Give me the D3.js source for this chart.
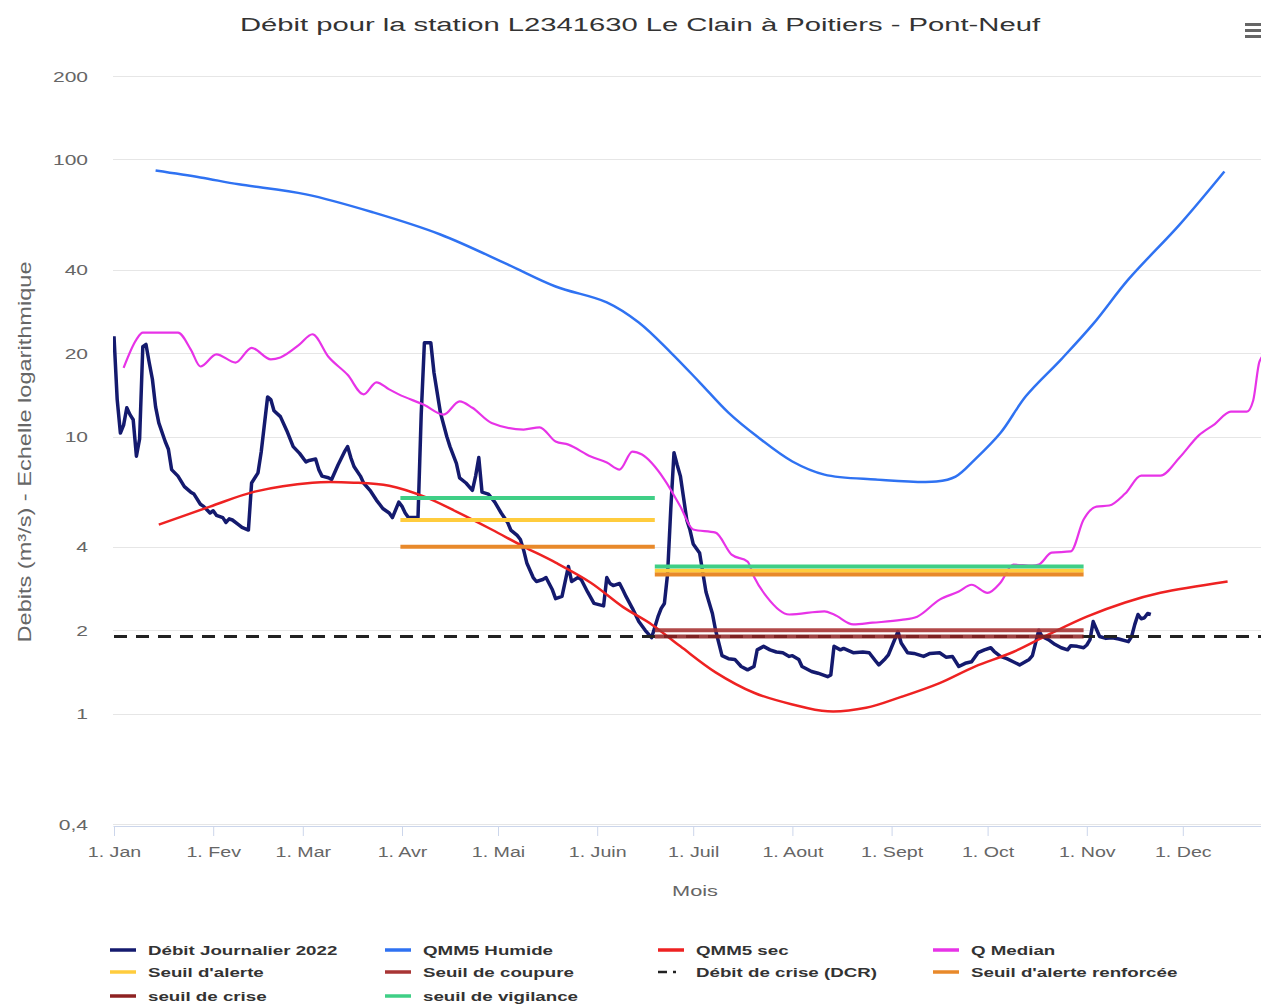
<!DOCTYPE html>
<html><head><meta charset="utf-8">
<script src="https://cdn.jsdelivr.net/npm/d3@7"></script>
<style>
body{margin:0;background:#fff;}
svg{display:block;font-family:"Liberation Sans",Arial,sans-serif;}
</style>
</head><body>
<svg id="chart" width="1261" height="1005"></svg>
<script>
// ---------- data ----------
const titleText = "Débit pour la station L2341630 Le Clain à Poitiers - Pont-Neuf";
const yAxisTitle = "Debits (m³/s) - Echelle logarithmique";
const xAxisTitle = "Mois";
const monthLabels = ["Jan","Fev","Mar","Avr","Mai","Juin","Juil","Aout","Sept","Oct","Nov","Dec"];
const yTickValues = [0.4, 1, 2, 4, 10, 20, 40, 100, 200];

// [day of year 2022, m3/s]
const debitJournalier = [[0,23.0],[1,13.6],[2,10.3],[3,11.0],[4,12.7],[5,12.0],[6,11.5],[7,8.5],[8,9.8],[9,21.1],[10,21.5],[11,18.5],[12,16.1],[13,12.8],[14,11.2],[16,9.6],[17,9.0],[18,7.6],[20,7.2],[22,6.6],[24,6.3],[25,6.2],[27,5.7],[28,5.6],[30,5.3],[31,5.4],[32,5.2],[34,5.1],[35,4.9],[36,5.05],[37,5.0],[39,4.8],[40,4.7],[42,4.6],[43,6.8],[45,7.4],[46,8.8],[48,13.9],[49,13.6],[50,12.4],[52,11.8],[54,10.5],[56,9.2],[58,8.7],[60,8.1],[61,8.2],[63,8.3],[64,7.6],[65,7.2],[67,7.1],[68,7.0],[70,7.9],[72,8.8],[73,9.2],[74,8.4],[75,7.8],[77,7.2],[78,6.8],[80,6.4],[82,5.9],[83,5.7],[84,5.5],[86,5.3],[87,5.1],[89,5.8],[90,5.6],[91,5.3],[92,5.1],[95,5.1],[96,12.0],[97,21.8],[99,21.8],[100,17.0],[102,12.2],[104,10.0],[105,9.2],[107,8.0],[108,7.1],[110,6.8],[112,6.4],[113,7.2],[114,8.4],[115,6.3],[117,6.2],[119,5.8],[121,5.3],[123,4.9],[124,4.6],[126,4.4],[127,4.25],[128,3.9],[129,3.5],[131,3.1],[132,3.0],[134,3.05],[135,3.1],[137,2.8],[138,2.6],[140,2.65],[142,3.4],[143,3.0],[145,3.1],[146,3.05],[148,2.75],[150,2.5],[153,2.45],[154,3.1],[155,2.95],[156,2.9],[158,2.95],[159,2.8],[160,2.65],[162,2.4],[164,2.15],[166,2.0],[168,1.88],[170,2.24],[171,2.4],[172,2.5],[173,3.2],[174,5.5],[175,8.75],[176,7.9],[177,7.2],[178,6.0],[179,5.0],[180,4.6],[181,4.1],[183,3.8],[185,2.75],[187,2.3],[188,2.0],[190,1.62],[192,1.58],[194,1.57],[196,1.48],[198,1.44],[200,1.48],[201,1.7],[203,1.75],[205,1.7],[207,1.67],[209,1.66],[211,1.61],[212,1.62],[214,1.57],[215,1.48],[218,1.42],[220,1.40],[223,1.36],[224,1.38],[225,1.75],[227,1.70],[228,1.72],[231,1.66],[234,1.67],[236,1.66],[238,1.55],[239,1.5],[241,1.58],[242,1.63],[245,1.98],[246,1.8],[248,1.66],[250,1.65],[253,1.61],[255,1.65],[258,1.66],[260,1.6],[262,1.61],[264,1.48],[266,1.52],[268,1.54],[270,1.66],[272,1.7],[274,1.73],[275,1.68],[277,1.61],[279,1.58],[281,1.54],[283,1.5],[286,1.57],[287,1.62],[289,2.0],[290,1.9],[292,1.85],[294,1.78],[296,1.73],[298,1.7],[299,1.76],[301,1.75],[303,1.73],[304,1.77],[305,1.85],[306,2.15],[308,1.9],[310,1.87],[312,1.88],[314,1.86],[317,1.82],[318,1.9],[319,2.1],[320,2.28],[321,2.2],[322,2.22],[323,2.3],[324,2.28]];

const qmm5Humide = [[13,91.2],[27,86.1],[39,81.3],[60,74.8],[81,64.4],[102,53.6],[123,41.8],[138,34.8],[154,30.5],[164,25.8],[174,20.1],[183,15.7],[192,12.2],[201,10.0],[212,8.13],[222,7.29],[238,7.0],[257,6.88],[263,7.17],[269,8.26],[277,10.3],[285,14.0],[296,19.0],[306,25.5],[317,36.9],[333,58.2],[347,90.5]];

const qmm5Sec = [[14,4.81],[30,5.59],[44,6.33],[62,6.82],[75,6.82],[86,6.65],[97,6.07],[107,5.36],[118,4.62],[128,4.01],[138,3.51],[149,2.97],[159,2.43],[168,2.10],[177,1.75],[188,1.41],[200,1.19],[212,1.08],[223,1.02],[235,1.05],[246,1.15],[258,1.29],[269,1.48],[281,1.67],[292,1.93],[304,2.24],[316,2.52],[327,2.73],[348,3.0]];

const qMedian = [[3,17.7],[7,22.4],[9,23.7],[20,23.7],[24,20.6],[27,17.9],[32,19.8],[38,18.5],[43,20.9],[49,19.0],[52,19.3],[58,21.5],[62,23.4],[67,19.4],[73,16.7],[78,14.2],[82,15.7],[86,14.8],[89,14.2],[97,13.0],[103,12.0],[108,13.4],[112,12.7],[118,11.2],[128,10.6],[133,10.8],[138,9.6],[142,9.35],[149,8.47],[154,8.06],[158,7.6],[162,8.83],[165,8.61],[172,7.0],[177,5.59],[181,4.62],[188,4.5],[193,3.75],[198,3.54],[200,3.12],[204,2.64],[211,2.28],[222,2.34],[225,2.28],[231,2.10],[237,2.13],[246,2.18],[251,2.24],[258,2.58],[264,2.76],[268,2.92],[273,2.73],[277,2.97],[281,3.45],[287,3.42],[289,3.45],[293,3.81],[299,3.85],[303,5.02],[307,5.59],[311,5.64],[316,6.23],[321,7.23],[327,7.23],[333,8.4],[339,10.1],[344,11.1],[349,12.3],[354,12.3],[356,13.5],[358,18.7],[362,21.0]];

// threshold periods (day of year)
const periodStart = [89.5, 169];
const periodEnd = [169, 303];
const seuilAlerte = [5.0, 3.28];
const seuilCoupure = [null, 2.0];
const seuilAlerteRenforcee = [4.0, 3.18];
const seuilCrise = [null, 1.9];
const seuilVigilance = [6.0, 3.4];
const debitCrise = 1.9;

const legendNames = ["Débit Journalier 2022","QMM5 Humide","QMM5 sec","Q Median","Seuil d'alerte","Seuil de coupure","Débit de crise (DCR)","Seuil d'alerte renforcée","seuil de crise","seuil de vigilance"];
const seriesColors = ["#141a6e","#2f72f2","#ee2222","#e733e7","#ffcc3d","#a83535","#222222","#e8892a","#8e2222","#3fcf86"];

// ---------- chart ----------
const svg = d3.select("#chart");
const W = 1261;
const t0 = Date.UTC(2022,0,1);
const dayToDate = d => new Date(t0 + d*864e5);
const x = d3.scaleUtc().domain([new Date(t0), new Date(Date.UTC(2023,0,1))]).range([114, 1282]);
const y = d3.scaleLog().domain([0.4, 200]).range([824, 76]);

function stretch(sel, k){
  sel.each(function(){
    const w = this.getComputedTextLength();
    this.setAttribute("textLength", w*k);
    this.setAttribute("lengthAdjust","spacingAndGlyphs");
  });
}

svg.append("defs").append("clipPath").attr("id","plot")
  .append("rect").attr("x",113).attr("y",40).attr("width",W-113).attr("height",790);

// gridlines
svg.append("g").selectAll("line").data(yTickValues).join("line")
  .attr("x1",113).attr("x2",W).attr("y1",d=>Math.round(y(d))+0.5).attr("y2",d=>Math.round(y(d))+0.5)
  .attr("stroke","#e6e6e6").attr("stroke-width",1);

// y axis labels
const yAxis = d3.axisLeft(y).tickValues(yTickValues).tickSize(0).tickPadding(0)
  .tickFormat(d => String(d).replace(".", ","));
const gy = svg.append("g").attr("transform","translate(88,0)").call(yAxis);
gy.select(".domain").remove();
gy.selectAll("text").attr("font-size",15).attr("fill","#666").attr("font-family","Liberation Sans, Arial, sans-serif")
  .attr("dy","0.34em");
stretch(gy.selectAll("text"), 1.4);

// x axis
const monthTicks = d3.range(12).map(m => new Date(Date.UTC(2022,m,1)));
const xAxis = d3.axisBottom(x).tickValues(monthTicks).tickSize(10).tickPadding(11)
  .tickFormat(d => "1. " + monthLabels[d.getUTCMonth()]);
const gx = svg.append("g").attr("transform","translate(0,826)").call(xAxis);
gx.select(".domain").attr("stroke","#ccd6eb").attr("d","M113.5,0.5H"+W);
gx.selectAll(".tick line").attr("stroke","#ccd6eb");
gx.selectAll("text").attr("font-size",14).attr("fill","#666").attr("font-family","Liberation Sans, Arial, sans-serif");
stretch(gx.selectAll("text"), 1.4);

// axis titles
const xt = svg.append("text").attr("x",695).attr("y",896).attr("text-anchor","middle")
  .attr("font-size",15).attr("fill","#666").text(xAxisTitle);
stretch(xt, 1.45);
svg.append("text").attr("transform","translate(31,452) scale(1.35,1) rotate(-90)")
  .attr("text-anchor","middle").attr("font-size",14).attr("fill","#666")
  .attr("textLength",381).attr("lengthAdjust","spacingAndGlyphs").text(yAxisTitle);

// title
svg.append("text").attr("x",640).attr("y",31).attr("text-anchor","middle")
  .attr("font-size",18).attr("fill","#333")
  .attr("textLength",800).attr("lengthAdjust","spacingAndGlyphs").text(titleText);

// menu icon
svg.append("g").selectAll("rect").data([0,1,2]).join("rect")
  .attr("x",1245).attr("y",i=>23+i*6).attr("width",20).attr("height",3).attr("fill","#666");

// series
const plot = svg.append("g").attr("clip-path","url(#plot)");
const line = d3.line().x(d => x(dayToDate(d[0]))).y(d => y(d[1]));
const smooth = d3.line().curve(d3.curveCatmullRom.alpha(0.5)).x(d => x(dayToDate(d[0]))).y(d => y(d[1]));
const medianLine = d3.line().curve(d3.curveMonotoneX).x(d => x(dayToDate(d[0]))).y(d => y(d[1]));

function hseg(values, color, width, opacity){
  values.forEach((v,i) => {
    if (v == null) return;
    plot.append("path").attr("fill","none").attr("stroke",color).attr("stroke-width",width)
      .attr("stroke-opacity",opacity||1)
      .attr("d", line([[periodStart[i], v],[periodEnd[i], v]]));
  });
}

plot.append("path").datum(debitJournalier).attr("fill","none").attr("stroke",seriesColors[0])
  .attr("stroke-width",3.5).attr("stroke-linejoin","round").attr("d",line);
plot.append("path").datum(qmm5Humide).attr("fill","none").attr("stroke",seriesColors[1])
  .attr("stroke-width",2.5).attr("d",smooth);
plot.append("path").datum(qmm5Sec).attr("fill","none").attr("stroke",seriesColors[2])
  .attr("stroke-width",2.5).attr("d",smooth);
plot.append("path").datum(qMedian).attr("fill","none").attr("stroke",seriesColors[3])
  .attr("stroke-width",2.2).attr("stroke-linejoin","round").attr("d",medianLine);
hseg(seuilAlerte, seriesColors[4], 4);
hseg(seuilCoupure, seriesColors[5], 4, 0.9);
plot.append("path").attr("fill","none").attr("stroke",seriesColors[6]).attr("stroke-width",3)
  .attr("stroke-dasharray","13,9")
  .attr("d", line([[0, debitCrise],[365, debitCrise]]));
hseg(seuilAlerteRenforcee, seriesColors[7], 4);
hseg(seuilCrise, seriesColors[8], 4, 0.85);
hseg(seuilVigilance, seriesColors[9], 4);

// legend
const legX = [110, 385, 658, 933];
const legY = [950, 972, 996];
const leg = svg.append("g").selectAll("g").data(legendNames).join("g")
  .attr("transform",(d,i)=>`translate(${legX[i%4]},${legY[Math.floor(i/4)]})`);
leg.append("line").attr("x1",0).attr("x2",26).attr("y1",0).attr("y2",0)
  .attr("stroke",(d,i)=>seriesColors[i]).attr("stroke-width",(d,i)=>i===6?2.5:3.5)
  .attr("stroke-dasharray",(d,i)=>i===6?"9,6,3,20":null);
const lt = leg.append("text").attr("x",38).attr("y",5).attr("font-size",13).attr("font-weight","bold")
  .attr("fill","#333").text(d=>d);
stretch(lt, 1.44);
</script>
</body></html>
